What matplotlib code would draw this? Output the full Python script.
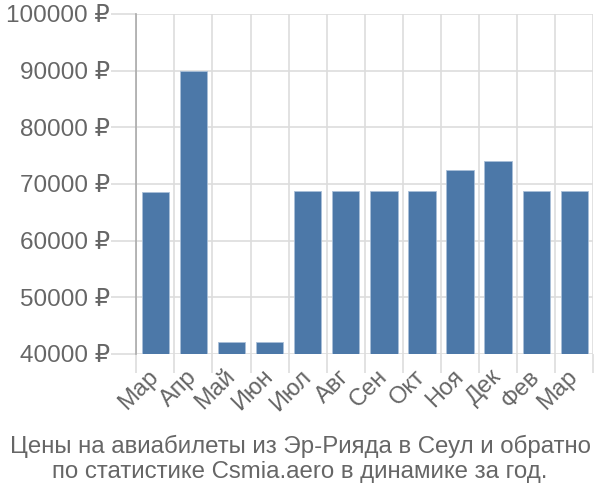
import matplotlib.pyplot as plt

months = ['Мар', 'Апр', 'Май', 'Июн', 'Июл', 'Авг', 'Сен', 'Окт', 'Ноя', 'Дек', 'Фев', 'Мар']
prices = [68650, 90000, 42100, 42100, 68800, 68800, 68800, 68800, 72450, 74050, 68800, 68800]
yticks = [40000, 50000, 60000, 70000, 80000, 90000, 100000]

plt.rcParams['font.family'] = ['Liberation Sans', 'DejaVu Sans']

fig = plt.figure(figsize=(6, 5), dpi=100)
ax = fig.add_axes([0.227, 0.292, 0.762, 0.68])

x = list(range(len(months)))
ax.bar(x, prices, width=0.72, color='#4c78a8', edgecolor='#a9bfd8', linewidth=0.6, zorder=3)

ax.set_xlim(-0.5, len(months) - 0.5)
ax.set_ylim(40000, 100000)

# grid on category boundaries and value ticks
for b in range(len(months) + 1):
    ax.axvline(b - 0.5, color='#dddddd', linewidth=1.2, zorder=1)
for t in yticks:
    ax.axhline(t, color='#dddddd', linewidth=1.2, zorder=1)

ax.set_yticks(yticks)
ax.set_yticklabels([f'{t} ₽' for t in yticks])
ax.set_xticks(x)
ax.set_xticklabels(months, rotation=45, ha='right', va='center', rotation_mode='anchor')

# boundary tick marks below the axis
ax.set_xticks([b - 0.5 for b in range(len(months) + 1)], minor=True)
ax.tick_params(axis='x', which='major', length=0, pad=14, labelsize=17, labelcolor='#666666')
ax.tick_params(axis='x', which='minor', length=14, color='#dddddd', width=1.2)
ax.tick_params(axis='y', length=18, color='#dddddd', width=1.2, labelsize=17.5, labelcolor='#666666', pad=1)

for s in ['top', 'right', 'bottom']:
    ax.spines[s].set_visible(False)
ax.spines['left'].set_color('#aaaaaa')
ax.spines['left'].set_linewidth(1.2)
ax.spines['left'].set_bounds(40000, 100000)

fig.text(0.5, 0.082, 'Цены на авиабилеты из Эр-Рияда в Сеул и обратно\nпо статистике Csmia.aero в динамике за год.',
         ha='center', va='center', fontsize=17.3, color='#666666', linespacing=1.2)

fig.savefig('out.png')
